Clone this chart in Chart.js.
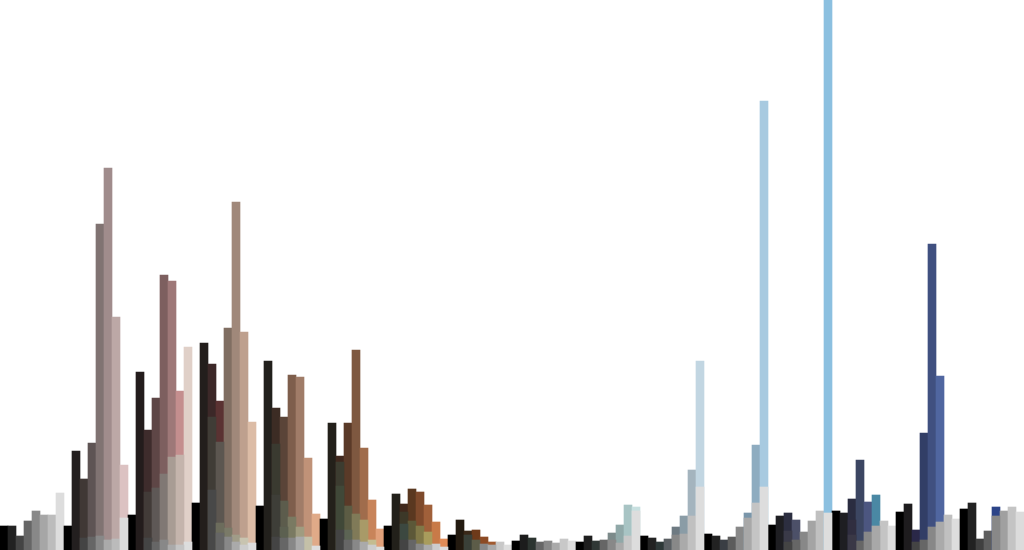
<!DOCTYPE html>
<html>
<head>
<meta charset="utf-8">
<script src="https://cdn.jsdelivr.net/npm/chart.js@4"></script>
<style>
  html, body { margin: 0; padding: 0; background: #ffffff; }
  #wrap { width: 1024px; height: 550px; position: relative; }
</style>
</head>
<body>
<div id="wrap"><canvas id="c"></canvas></div>
<script>
// 16 hue bins x 8 lightness bins = 128 categories
const hueBins = ['H0','H1','H2','H3','H4','H5','H6','H7','H8','H9','H10','H11','H12','H13','H14','H15'];
const lightBins = ['L0','L1','L2','L3','L4','L5','L6','L7'];

// Layered values (layer1 = tallest, at the back; layer4 = shortest, in front)
const layer1 = [
  24,24,14,29,39,35,35,57,
  24,99,71,107,326,382,233,85,
  35,178,120,152,275,269,159,203,
  47,207,186,149,222,348,218,128,
  44,189,142,133,175,173,92,36,
  31,127,94,127,200,102,50,21,
  24,56,46,61,58,45,28,11,
  15,30,19,20,13,8,8,5,
  9,15,12,8,9,7,11,9,
  8,14,9,10,17,25,45,43,
  14,12,8,11,23,34,80,189,
  16,14,10,13,23,37,105,449,
  25,34,37,30,18,29,39,550,
  39,37,51,90,48,55,29,24,
  38,46,20,117,306,174,35,31,
  41,47,11,19,43,39,43,38
];
const layer2 = [
  0,0,0,0,0,0,0,0,
  0,0,12,13,14,10,11,32,
  0,0,58,62,76,93,95,8,
  0,0,133,108,22,15,12,7,
  0,0,106,49,33,23,13,4,
  0,0,88,44,36,30,10,3,
  0,0,38,29,24,18,6,3,
  0,0,15,10,6,5,0,0,
  0,0,0,0,0,0,0,0,
  0,0,0,0,10,7,14,39,
  0,0,0,0,15,16,34,63,
  0,0,0,0,0,32,47,63,
  0,0,19,10,0,0,0,37,
  0,0,30,9,18,24,0,0,
  0,0,8,10,23,28,0,0,
  0,0,0,0,34,0,0,0
];
const layer3 = [
  0,0,0,0,0,0,0,0,
  0,0,0,0,0,0,0,0,
  0,0,12,8,10,5,5,0,
  0,0,60,27,13,8,5,0,
  0,0,55,23,12,13,0,0,
  0,0,64,20,10,8,5,0,
  0,0,26,10,6,5,0,0,
  0,0,0,0,0,0,0,0,
  0,0,0,0,0,0,0,0,
  0,0,0,0,0,0,0,0,
  0,0,0,0,0,0,0,0,
  0,0,0,0,0,0,0,0,
  0,0,8,0,0,0,0,0,
  0,0,15,0,0,0,0,0,
  0,0,0,0,0,0,0,0,
  0,0,0,0,0,0,0,0
];
const layer4 = [
  0,0,0,0,0,0,0,0,
  0,0,0,0,0,0,0,0,
  0,0,0,0,0,0,0,0,
  0,0,0,17,0,0,0,0,
  0,0,13,12,0,0,0,0,
  0,0,20,10,0,0,0,0,
  0,0,10,0,0,0,0,0,
  0,0,0,0,0,0,0,0,
  0,0,0,0,0,0,0,0,
  0,0,0,0,0,0,0,0,
  0,0,0,0,0,0,0,0,
  0,0,0,0,0,0,0,0,
  0,0,0,0,0,0,0,0,
  0,0,0,0,0,0,0,0,
  0,0,0,0,0,0,0,0,
  0,0,0,0,0,0,0,0
];

// Colours of each bar, per layer
const colors1 = [
  '#000000','#222222','#444444','#666666','#888888','#a6a6a6','#bcbcbc','#dddddd',
  '#000000','#231f1f','#403835','#5e5454','#807372','#a08c8c','#bca8a6','#dcc2c2',
  '#000000','#231c1c','#3e2c2c','#5e4646','#7d5f5f','#9e7878','#c48e8e','#e0d0c8',
  '#000000','#231e1c','#3c2828','#5a3232','#806e62','#a0887a','#bea08e','#dcbca6',
  '#000000','#22201c','#3c2c24','#5a4438','#7e5e4c','#a07c68','#c09278','#e0aa88',
  '#000000','#23201a','#40281e','#5a3a28','#7e5840','#a06c4c','#c8845a','#e0a07a',
  '#000000','#22201a','#40281c','#5a3820','#7e4a2c','#a0603a','#c87a48','#e08c58',
  '#000000','#231a10','#3a2818','#6e3a1a','#8c4a24','#a05a30','#c8c8c8','#dddddd',
  '#000000','#1c1c1c','#2c3430','#666666','#888888','#aaaaaa','#c8c8c8','#dddddd',
  '#000000','#1e1e1e','#303836','#666666','#7c8a8a','#90a8a8','#a8c4c4','#c8e0e0',
  '#000000','#222222','#2e3838','#5a5e62','#6e7a82','#8a9ca6','#a4b4be','#c2d6e2',
  '#000000','#222222','#3a3e44','#5c5c5c','#888888','#7a96aa','#8eacc0','#a8cae0',
  '#000000','#1e1e22','#2c2e40','#4c5068','#888888','#a4a4a4','#c0c0c0','#8cc0e0',
  '#000000','#1e1e22','#2a2c40','#3c4662','#4c5680','#4a88a4','#c4c4c4','#dddddd',
  '#000000','#1e1c1e','#2a2848','#323e66','#405080','#5066a0','#c0c0c0','#dddddd',
  '#000000','#222222','#404040','#5e5e5e','#2c4488','#a0a0a0','#c4c4c4','#dcdcdc'
];
const E = 'rgba(0,0,0,0)';
const colors2 = [
  E,E,E,E,E,E,E,E,
  E,E,'#444444','#666666','#888888','#aaaaaa','#bbbbbb','#dddddd',
  E,E,'#423b38','#5e5856','#807874','#a89c94','#c4b4ac','#dddddd',
  E,E,'#403c36','#5c5650','#7a7a68','#a09c88','#c8c4b0','#dddddd',
  E,E,'#3a3a30','#5c5c4c','#7a7a62','#a09c80','#c4c0a8','#dddddd',
  E,E,'#3c3c30','#5c5c44','#807a58','#a89a68','#c4bc90','#dddddd',
  E,E,'#3c3828','#5c5838','#807848','#a89c5c','#cccccc','#dddddd',
  E,E,'#3a4038','#5c5c48','#888888','#aaaaaa',E,E,
  E,E,E,E,E,E,E,E,
  E,E,E,E,'#888888','#aaaaaa','#c8c8c8','#dddddd',
  E,E,E,E,'#888888','#aaaaaa','#c0c0c0','#dddddd',
  E,E,E,E,E,'#a8a8a8','#c4c4c4','#dddddd',
  E,E,'#3a3a48','#666666',E,E,E,'#dddddd',
  E,E,'#302e40','#666666','#888888','#a8a8a8',E,E,
  E,E,'#444444','#666666','#888888','#aaaaaa',E,E,
  E,E,E,E,'#888888',E,E,E
];
const colors3 = [
  E,E,E,E,E,E,E,E,
  E,E,E,E,E,E,E,E,
  E,E,'#444444','#666666','#888888','#aaaaaa','#c4c4c4',E,
  E,E,'#484848','#6c6c5c','#888888','#aaaaaa','#cccccc',E,
  E,E,'#3e3e38','#5c6050','#888888','#aaaaaa',E,E,
  E,E,'#404838','#5c6454','#888888','#aaaaaa','#cccccc',E,
  E,E,'#3c4840','#666666','#888888','#aaaaaa',E,E,
  E,E,E,E,E,E,E,E,
  E,E,E,E,E,E,E,E,
  E,E,E,E,E,E,E,E,
  E,E,E,E,E,E,E,E,
  E,E,E,E,E,E,E,E,
  E,E,'#444444',E,E,E,E,E,
  E,E,'#3a3846',E,E,E,E,E,
  E,E,E,E,E,E,E,E,
  E,E,E,E,E,E,E,E
];
const colors4 = [
  E,E,E,E,E,E,E,E,
  E,E,E,E,E,E,E,E,
  E,E,E,E,E,E,E,E,
  E,E,E,'#666666',E,E,E,E,
  E,E,'#444444','#666666',E,E,E,E,
  E,E,'#444444','#666666',E,E,E,E,
  E,E,'#444444',E,E,E,E,E,
  E,E,E,E,E,E,E,E,
  E,E,E,E,E,E,E,E,
  E,E,E,E,E,E,E,E,
  E,E,E,E,E,E,E,E,
  E,E,E,E,E,E,E,E,
  E,E,E,E,E,E,E,E,
  E,E,E,E,E,E,E,E,
  E,E,E,E,E,E,E,E,
  E,E,E,E,E,E,E,E
];

const categories = hueBins.flatMap(h => lightBins.map(l => h + ' ' + l));
const yMax = 550;

function ds(label, data, colors, order) {
  return {
    label, data, backgroundColor: colors, borderWidth: 0,
    barPercentage: 1.0, categoryPercentage: 1.0, order
  };
}

new Chart(document.getElementById('c'), {
  type: 'bar',
  data: {
    labels: categories,
    datasets: [
      ds('layer1', layer1, colors1, 4),
      ds('layer2', layer2, colors2, 3),
      ds('layer3', layer3, colors3, 2),
      ds('layer4', layer4, colors4, 1)
    ]
  },
  options: {
    responsive: true,
    maintainAspectRatio: false,
    animation: false,
    layout: { padding: 0 },
    plugins: { legend: { display: false }, tooltip: { enabled: false }, title: { display: false } },
    scales: {
      x: { display: false, stacked: false, grid: { display: false } },
      y: { display: false, min: 0, max: yMax, grid: { display: false } }
    },
    datasets: { bar: { grouped: false } }
  }
});
</script>
</body>
</html>
